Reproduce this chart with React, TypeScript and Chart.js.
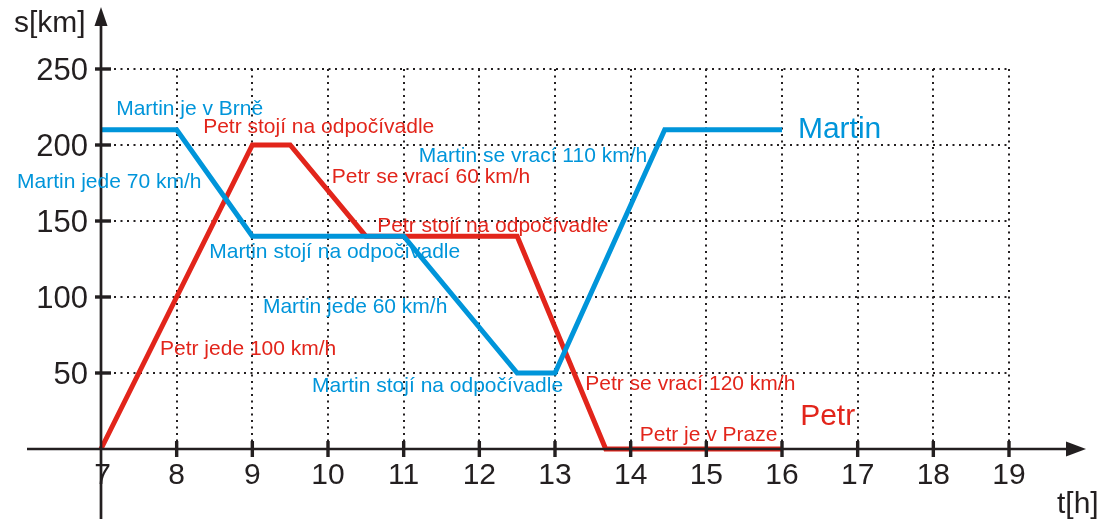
import React, { useEffect, useRef } from 'react';
import { Chart, registerables } from 'chart.js';

Chart.register(...registerables);

// ---- data ----
const martinHours = [7, 8, 9, 11, 12.5, 13, 14.45, 16];
const martinKm = [210, 210, 140, 140, 50, 50, 210, 210];
const petrHours = [7, 9, 9.5, 10.5, 12.5, 13.67, 16];
const petrKm = [0, 200, 200, 140, 140, 0, 0];

const xTickLabels = ['7', '8', '9', '10', '11', '12', '13', '14', '15', '16', '17', '18', '19'];
const yTickLabels = ['50', '100', '150', '200', '250'];

const noteTexts = [
  'Martin je v Brně',
  'Petr stojí na odpočívadle',
  'Martin jede 70 km/h',
  'Petr se vrací 60 km/h',
  'Martin se vrací 110 km/h',
  'Petr stojí na odpočívadle',
  'Martin stojí na odpočívadle',
  'Martin jede 60 km/h',
  'Petr jede 100 km/h',
  'Martin stojí na odpočívadle',
  'Petr se vrací 120 km/h',
  'Petr je v Praze',
  'Martin',
  'Petr',
];
const noteHours = [7.2, 8.35, 5.89, 10.05, 11.2, 10.65, 8.43, 9.14, 7.78, 9.79, 13.4, 14.12, 16.21, 16.24];
const noteKm = [219.7, 207.9, 171.7, 175, 188.8, 142.8, 125.7, 89.5, 61.8, 37.5, 38.8, 5.3, 204.6, 15.8];
const noteSeries = ['m', 'p', 'm', 'p', 'm', 'p', 'm', 'm', 'p', 'm', 'p', 'p', 'm', 'p'];
const noteBig = [false, false, false, false, false, false, false, false, false, false, false, false, true, true];

const BLUE = '#0095da';
const RED = '#e2251b';
const INK = '#231f20';
const FONT = '"Liberation Sans", Arial, Helvetica, sans-serif';

const decorPlugin = {
  id: 'decor',
  afterDatasetsDraw(chart: any) {
    const ctx = chart.ctx as CanvasRenderingContext2D;
    const xs = chart.scales.x;
    const ys = chart.scales.y;
    const x0 = xs.getPixelForValue(7);
    const y0 = ys.getPixelForValue(0);
    ctx.save();
    ctx.fillStyle = INK;
    ctx.strokeStyle = INK;
    // axes
    ctx.lineWidth = 2.7;
    ctx.beginPath();
    ctx.moveTo(27, y0);
    ctx.lineTo(1068, y0);
    ctx.moveTo(x0, 519);
    ctx.lineTo(x0, 24);
    ctx.stroke();
    // arrows
    ctx.beginPath();
    ctx.moveTo(1086, y0);
    ctx.lineTo(1066, y0 - 7.5);
    ctx.lineTo(1066, y0 + 7.5);
    ctx.closePath();
    ctx.fill();
    ctx.beginPath();
    ctx.moveTo(x0, 7);
    ctx.lineTo(x0 - 6.5, 26);
    ctx.lineTo(x0 + 6.5, 26);
    ctx.closePath();
    ctx.fill();
    // tick marks + labels
    ctx.font = '30px ' + FONT;
    ctx.textAlign = 'center';
    ctx.textBaseline = 'alphabetic';
    xTickLabels.forEach((lab) => {
      const px = xs.getPixelForValue(Number(lab));
      if (Number(lab) !== 7) ctx.fillRect(px - 1.7, y0 - 8, 3.4, 16);
      ctx.fillText(lab, px + (Number(lab) === 7 ? 1.5 : 0), y0 + 35);
    });
    ctx.textAlign = 'right';
    ctx.font = '31px ' + FONT;
    yTickLabels.forEach((lab) => {
      const py = ys.getPixelForValue(Number(lab));
      ctx.fillRect(x0 - 6, py - 1.7, 16, 3.4);
      ctx.fillText(lab, 88, py + 11);
    });
    // axis titles
    ctx.textAlign = 'left';
    ctx.font = '30px ' + FONT;
    ctx.fillText('s[km]', 14, 32);
    ctx.fillText('t[h]', 1057, 513);
    // notes
    noteTexts.forEach((t, i) => {
      ctx.fillStyle = noteSeries[i] === 'm' ? BLUE : RED;
      ctx.font = (noteBig[i] ? '30px ' : '21px ') + FONT;
      ctx.fillText(t, xs.getPixelForValue(noteHours[i]), ys.getPixelForValue(noteKm[i]));
    });
    ctx.restore();
  },
};

export default function App() {
  const ref = useRef<HTMLCanvasElement | null>(null);
  useEffect(() => {
    if (!ref.current) return;
    const chart = new Chart(ref.current, {
      type: 'line',
      data: {
        datasets: [
          {
            label: 'Martin',
            data: martinHours.map((h, i) => ({ x: h, y: martinKm[i] })),
            borderColor: BLUE,
            borderWidth: 5,
            pointRadius: 0,
            tension: 0,
            borderJoinStyle: 'miter',
            clip: false as any,
          },
          {
            label: 'Petr',
            data: petrHours.map((h, i) => ({ x: h, y: petrKm[i] })),
            borderColor: RED,
            borderWidth: 5,
            pointRadius: 0,
            tension: 0,
            borderJoinStyle: 'miter',
            clip: false as any,
          },
        ],
      },
      options: {
        animation: false,
        responsive: false,
        maintainAspectRatio: false,
        layout: { padding: { top: 69, right: 93, bottom: 0, left: 0 } },
        plugins: { legend: { display: false }, tooltip: { enabled: false } },
        scales: {
          x: {
            type: 'linear',
            min: 7,
            max: 19,
            ticks: { display: false, stepSize: 1 },
            grid: { color: INK, lineWidth: 2, drawTicks: false },
            border: { display: false, dash: [2, 4.5] },
            afterFit: (s: any) => {
              s.height = 70;
            },
          },
          y: {
            type: 'linear',
            min: 0,
            max: 250,
            ticks: { display: false, stepSize: 50 },
            grid: { color: INK, lineWidth: 2, drawTicks: false },
            border: { display: false, dash: [2, 4.5] },
            afterFit: (s: any) => {
              s.width = 101;
            },
          },
        },
      },
      plugins: [decorPlugin],
    });
    return () => chart.destroy();
  }, []);
  return (
    <div style={{ position: 'fixed', left: 0, top: 0, width: 1102, height: 519, background: '#fff' }}>
      <canvas ref={ref} width={1102} height={519} style={{ display: 'block' }} />
    </div>
  );
}
